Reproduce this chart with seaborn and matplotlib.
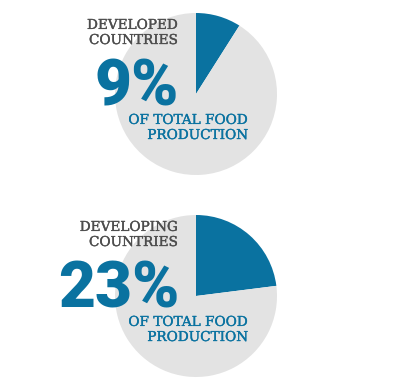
import matplotlib

matplotlib.use("Agg")
import matplotlib.patheffects as pe
import matplotlib.pyplot as plt
import seaborn as sns

# shares of total food production
group_labels = ["DEVELOPED\nCOUNTRIES", "DEVELOPING\nCOUNTRIES"]
share_values = [9, 23]
share_texts = ["9%", "23%"]
sub_label = "OF TOTAL FOOD\nPRODUCTION"

BLUE = "#0a72a0"
GREY = "#e3e3e3"
TEXT_GREY = "#4d4d4d"

W, H = 400, 383


def fx(px):
    return px / W


def fy(py):
    return 1 - py / H


def draw_block(fig, value, label, big_text, cy):
    # pie box in pixels: centre x 196, radius 81
    r = 81
    ax = fig.add_axes([fx(196 - r), fy(cy + r), 2 * r / W, 2 * r / H])
    ax.pie(
        [value, 100 - value],
        colors=[BLUE, GREY],
        startangle=90,
        counterclock=False,
        wedgeprops={"linewidth": 0},
    )
    ax.set_xlim(-1, 1)
    ax.set_ylim(-1, 1)
    ax.set_axis_off()

    small = dict(ha="right", va="baseline", family="DejaVu Serif",
                 fontsize=9.8, linespacing=1.1, zorder=5)
    # thin stroke to get the heavier slab look of the original
    fig.text(fx(178), fy(cy - 50), label, color=TEXT_GREY,
             path_effects=[pe.withStroke(linewidth=0.25, foreground=TEXT_GREY)],
             **small)
    fig.text(fx(179), fy(cy + 12), big_text, ha="right", va="baseline",
             family=["Roboto", "Liberation Sans"], fontweight="black",
             fontsize=46, color=BLUE, zorder=5)
    fig.text(fx(248), fy(cy + 45), sub_label, color=BLUE,
             path_effects=[pe.withStroke(linewidth=0.25, foreground=BLUE)],
             **small)


def main() -> None:
    sns.set_theme(style="white")
    fig = plt.figure(figsize=(W / 100, H / 100), dpi=100)
    fig.patch.set_facecolor("white")

    draw_block(fig, share_values[0], group_labels[0], share_texts[0], 94)
    draw_block(fig, share_values[1], group_labels[1], share_texts[1], 296)

    fig.savefig("out.png", dpi=100)
    plt.close(fig)


if __name__ == "__main__":
    main()
